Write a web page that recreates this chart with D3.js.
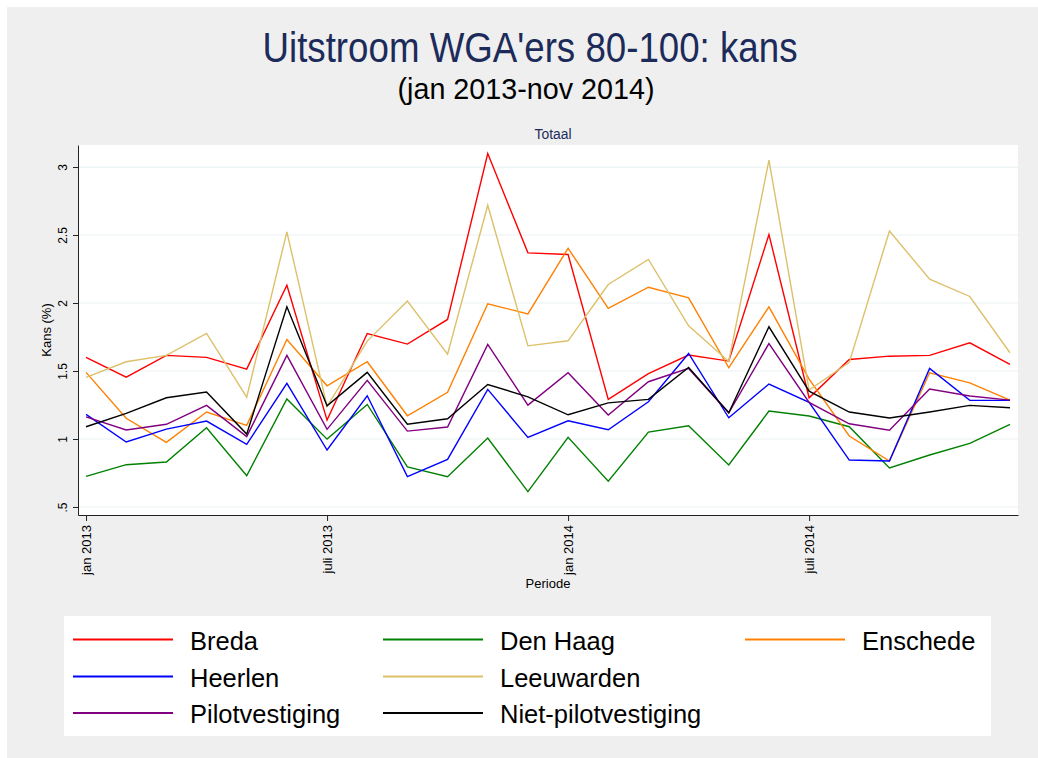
<!DOCTYPE html>
<html>
<head>
<meta charset="utf-8">
<script src="https://cdn.jsdelivr.net/npm/d3@7"></script>
<style>
body { margin: 0; background: #fff; }
text { font-family: "Liberation Sans", Arial, sans-serif; }
</style>
</head>
<body>
<svg id="chart" width="1038" height="758"></svg>
<script>
// Maanden jan 2013 - dec 2014 (index 0..23)
var periods = ["2013-01","2013-02","2013-03","2013-04","2013-05","2013-06","2013-07","2013-08","2013-09","2013-10","2013-11","2013-12",
               "2014-01","2014-02","2014-03","2014-04","2014-05","2014-06","2014-07","2014-08","2014-09","2014-10","2014-11","2014-12"];

var breda      = [1.60, 1.455, 1.615, 1.60, 1.514, 2.131, 1.139, 1.776, 1.698, 1.879, 3.099, 2.369, 2.357, 1.291, 1.48, 1.617, 1.573, 2.504, 1.303, 1.585, 1.609, 1.615, 1.707, 1.548];
var denHaag    = [0.725, 0.811, 0.831, 1.083, 0.73, 1.294, 0.999, 1.254, 0.794, 0.723, 1.007, 0.613, 1.012, 0.689, 1.051, 1.097, 0.809, 1.205, 1.169, 1.09, 0.787, 0.882, 0.968, 1.108];
var enschede   = [1.49, 1.152, 0.975, 1.198, 1.10, 1.732, 1.391, 1.568, 1.171, 1.343, 1.994, 1.92, 2.403, 1.96, 2.116, 2.038, 1.524, 1.972, 1.44, 1.022, 0.838, 1.487, 1.413, 1.286];
var heerlen    = [1.181, 0.978, 1.073, 1.132, 0.961, 1.409, 0.919, 1.318, 0.723, 0.85, 1.365, 1.012, 1.134, 1.068, 1.274, 1.629, 1.156, 1.404, 1.269, 0.845, 0.838, 1.519, 1.284, 1.284];
var leeuwarden = [1.453, 1.568, 1.615, 1.776, 1.308, 2.523, 1.24, 1.72, 2.014, 1.624, 2.719, 1.685, 1.722, 2.136, 2.32, 1.832, 1.57, 3.05, 1.36, 1.563, 2.53, 2.175, 2.048, 1.634];
var pilot      = [1.163, 1.066, 1.108, 1.247, 1.017, 1.615, 1.071, 1.431, 1.058, 1.088, 1.695, 1.249, 1.487, 1.176, 1.421, 1.519, 1.193, 1.702, 1.269, 1.112, 1.064, 1.367, 1.316, 1.286];
var nietPilot  = [1.09, 1.188, 1.303, 1.345, 1.036, 1.972, 1.244, 1.49, 1.108, 1.149, 1.401, 1.31, 1.178, 1.266, 1.291, 1.526, 1.193, 1.825, 1.352, 1.198, 1.154, 1.198, 1.247, 1.23];

var seriesNames  = ["Breda", "Den Haag", "Enschede", "Heerlen", "Leeuwarden", "Pilotvestiging", "Niet-pilotvestiging"];
var seriesValues = [breda, denHaag, enschede, heerlen, leeuwarden, pilot, nietPilot];
var seriesColors = ["#ff0000", "#008000", "#ff8000", "#0000ff", "#dcc06a", "#800080", "#000000"];
// plek in het legendarooster (3 kolommen, rij voor rij)
var legendSlot   = [0, 1, 2, 3, 4, 6, 7];

var xTickValues = [0, 6, 12, 18];
var xTickLabels = ["jan 2013", "juli 2013", "jan 2014", "juli 2014"];
var yTickValues = [0.5, 1, 1.5, 2, 2.5, 3];
var yTickLabels = [".5", "1", "1.5", "2", "2.5", "3"];

var svg = d3.select("#chart");

// grijze grafiekachtergrond
svg.append("rect")
    .attr("x", 7).attr("y", 7)
    .attr("width", 1031).attr("height", 751)
    .attr("fill", "#efefef");

var plot = {left: 78, right: 1018, top: 145, bottom: 515};

var x = d3.scaleLinear().domain([-0.2, 23.2]).range([plot.left, plot.right]);
var y = d3.scaleLinear().domain([0.441, 3.162]).range([plot.bottom, plot.top]);

svg.append("rect")
    .attr("x", plot.left).attr("y", plot.top)
    .attr("width", plot.right - plot.left).attr("height", plot.bottom - plot.top)
    .attr("fill", "#fff");

// gridlijnen
svg.append("g")
  .selectAll("line")
  .data(yTickValues)
  .enter().append("line")
    .attr("x1", plot.left).attr("x2", plot.right)
    .attr("y1", function(d) { return y(d); })
    .attr("y2", function(d) { return y(d); })
    .attr("stroke", "#eaf2f3")
    .attr("stroke-width", 1.2);

// lijnen
var line = d3.line()
    .x(function(d, i) { return x(i); })
    .y(function(d) { return y(d); });

svg.append("g")
  .selectAll("path")
  .data(seriesValues)
  .enter().append("path")
    .attr("d", line)
    .attr("fill", "none")
    .attr("stroke", function(d, i) { return seriesColors[i]; })
    .attr("stroke-width", 1.4)
    .attr("stroke-linejoin", "miter");

// y-as
var yAxis = d3.axisLeft(y)
    .tickValues(yTickValues)
    .tickFormat(function(d, i) { return yTickLabels[i]; })
    .tickSize(5)
    .tickSizeOuter(0);

var gy = svg.append("g")
    .attr("transform", "translate(" + plot.left + ",0)")
    .call(yAxis);
gy.select(".domain").attr("stroke", "#222");
gy.selectAll(".tick line").attr("stroke", "#222");
gy.selectAll(".tick text")
    .attr("x", 0).attr("dy", 0)
    .attr("text-anchor", "middle")
    .attr("transform", "translate(-11,0) rotate(-90)")
    .attr("font-size", 12)
    .attr("font-family", "Liberation Sans, Arial, sans-serif")
    .attr("fill", "#000");

// x-as
var xAxis = d3.axisBottom(x)
    .tickValues(xTickValues)
    .tickFormat(function(d, i) { return xTickLabels[i]; })
    .tickSize(6)
    .tickSizeOuter(0);

var gx = svg.append("g")
    .attr("transform", "translate(0," + plot.bottom + ")")
    .call(xAxis);
gx.select(".domain").attr("stroke", "#222");
gx.selectAll(".tick line").attr("stroke", "#222");
gx.selectAll(".tick text")
    .attr("x", 0).attr("y", 0).attr("dy", 0)
    .attr("text-anchor", "end")
    .attr("transform", "translate(4,10) rotate(-90)")
    .attr("font-size", 13)
    .attr("font-family", "Liberation Sans, Arial, sans-serif")
    .attr("fill", "#000");

// astitels
svg.append("text")
    .attr("transform", "translate(51," + ((plot.top + plot.bottom) / 2) + ") rotate(-90)")
    .attr("text-anchor", "middle")
    .attr("font-size", 13)
    .text("Kans (%)");

svg.append("text")
    .attr("x", (plot.left + plot.right) / 2)
    .attr("y", 588)
    .attr("text-anchor", "middle")
    .attr("font-size", 13)
    .text("Periode");

// titels (smal lettertype zoals Stata, via textLength)
svg.append("text")
    .attr("x", 530).attr("y", 62)
    .attr("text-anchor", "middle")
    .attr("font-size", 42)
    .attr("textLength", 535)
    .attr("lengthAdjust", "spacingAndGlyphs")
    .attr("fill", "#1c2b5a")
    .text("Uitstroom WGA'ers 80-100: kans");

svg.append("text")
    .attr("x", 526).attr("y", 99)
    .attr("text-anchor", "middle")
    .attr("font-size", 30)
    .attr("textLength", 257)
    .attr("lengthAdjust", "spacingAndGlyphs")
    .attr("fill", "#000")
    .text("(jan 2013-nov 2014)");

svg.append("text")
    .attr("x", 553).attr("y", 139)
    .attr("text-anchor", "middle")
    .attr("font-size", 14)
    .attr("textLength", 37)
    .attr("lengthAdjust", "spacingAndGlyphs")
    .attr("fill", "#1c2b5a")
    .text("Totaal");

// legenda
svg.append("rect")
    .attr("x", 64).attr("y", 616)
    .attr("width", 927).attr("height", 120)
    .attr("fill", "#fff");

var legendColX = [73, 383, 745];
var legendRowY = [639.5, 676.5, 713];

var item = svg.append("g")
  .selectAll("g")
  .data(seriesNames)
  .enter().append("g")
    .attr("transform", function(d, i) {
      var s = legendSlot[i];
      return "translate(" + legendColX[s % 3] + "," + legendRowY[Math.floor(s / 3)] + ")";
    });

item.append("line")
    .attr("x1", 0).attr("x2", 100)
    .attr("stroke", function(d, i) { return seriesColors[i]; })
    .attr("stroke-width", 2.2);

item.append("text")
    .attr("x", 117).attr("y", 10)
    .attr("font-size", 25.5)
    .attr("fill", "#000")
    .text(function(d) { return d; });
</script>
</body>
</html>
